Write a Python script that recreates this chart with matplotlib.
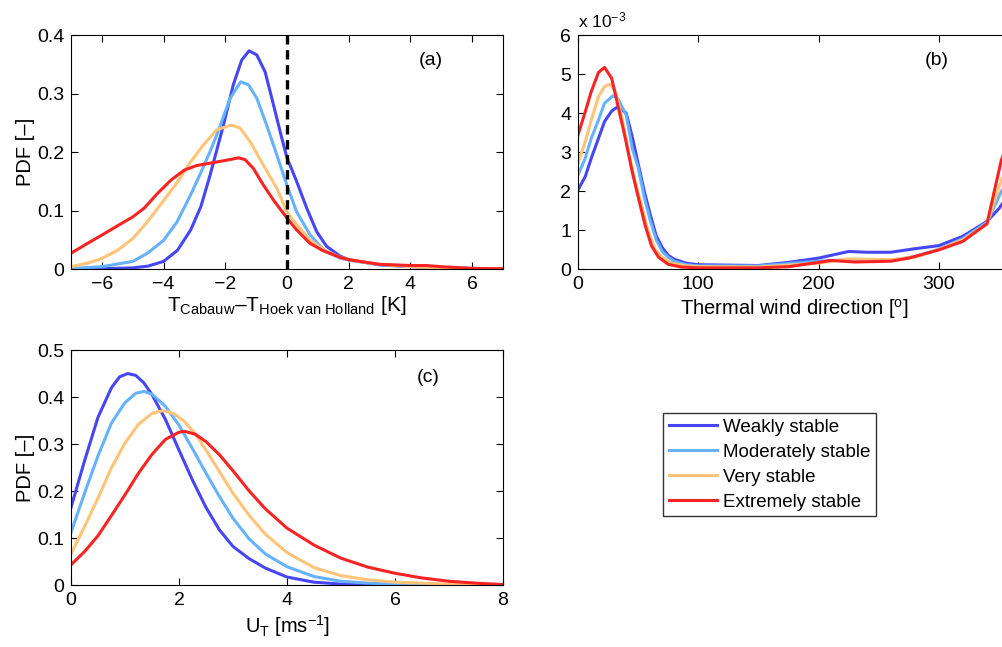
import matplotlib
matplotlib.use("Agg")
import matplotlib.pyplot as plt

plt.rcParams['font.family'] = ['Liberation Sans', 'DejaVu Sans']
plt.rcParams['font.size'] = 14
plt.rcParams['mathtext.fontset'] = 'custom'
plt.rcParams['mathtext.rm'] = 'Liberation Sans'
plt.rcParams['mathtext.it'] = 'Liberation Sans'
plt.rcParams['mathtext.default'] = 'regular'
plt.rcParams['axes.linewidth'] = 0.8

# Stability classes
classes = ['Weakly stable', 'Moderately stable', 'Very stable', 'Extremely stable']
colors = ['#4646f5', '#66b2ff', '#ffc477', '#f82424']

# (a) temperature difference Cabauw - Hoek van Holland [K]
dT_x = {
    'Weakly stable': [-7, -6, -5, -4.5, -4, -3.55, -3.12, -2.79, -2.49, -2.06, -1.74, -1.47,
                      -1.23, -0.98, -0.71, -0.44, -0.17, 0, 0.31, 0.64, 0.96, 1.28, 1.72, 2,
                      3, 4, 5, 6, 7],
    'Moderately stable': [-7, -6, -5, -4.52, -4, -3.57, -3.14, -2.79, -2.5, -2.28, -1.84, -1.5,
                          -1.25, -0.98, -0.66, -0.33, 0, 0.31, 0.74, 1.18, 1.7, 2, 3, 4, 5,
                          6, 7],
    'Very stable': [-7, -6.46, -6, -5.49, -5, -4.52, -4, -3.57, -3.14, -2.71, -2.28, -1.81,
                    -1.52, -1.2, -0.77, -0.33, 0, 0.31, 0.74, 1.18, 1.72, 2, 3, 4, 5, 6, 7],
    'Extremely stable': [-7, -6.46, -6, -5.49, -5, -4.63, -4.2, -3.76, -3.33, -2.92, -2.49,
                         -2.06, -1.57, -1.36, -1.09, -0.77, -0.44, 0, 0.31, 0.74, 1.18, 1.72,
                         2, 3, 4, 4.5, 5, 6, 7],
}
dT_pdf = {
    'Weakly stable': [0.0, 0.0005, 0.002, 0.005, 0.013, 0.032, 0.067, 0.107, 0.161, 0.246,
                      0.315, 0.357, 0.373, 0.366, 0.337, 0.281, 0.224, 0.19, 0.15, 0.104,
                      0.064, 0.039, 0.022, 0.016, 0.007, 0.004, 0.002, 0.001, 0.0005],
    'Moderately stable': [0.001, 0.004, 0.013, 0.027, 0.049, 0.08, 0.125, 0.165, 0.2, 0.229,
                          0.292, 0.32, 0.315, 0.292, 0.246, 0.195, 0.143, 0.098, 0.059,
                          0.033, 0.019, 0.015, 0.008, 0.005, 0.002, 0.001, 0.0],
    'Very stable': [0.004, 0.01, 0.018, 0.032, 0.052, 0.081, 0.117, 0.147, 0.182, 0.212,
                    0.238, 0.246, 0.241, 0.218, 0.178, 0.138, 0.097, 0.076, 0.05, 0.033,
                    0.02, 0.016, 0.008, 0.004, 0.002, 0.001, 0.0],
    'Extremely stable': [0.027, 0.044, 0.058, 0.074, 0.089, 0.104, 0.129, 0.152, 0.169, 0.177,
                         0.181, 0.185, 0.19, 0.187, 0.172, 0.144, 0.118, 0.087, 0.067, 0.044,
                         0.031, 0.02, 0.016, 0.008, 0.006, 0.006, 0.004, 0.001, 0.0005],
}

# (b) thermal wind direction [deg], PDF in units of 1e-3
dir_x = {
    'Weakly stable': [0, 6, 11, 17, 22, 28, 33, 40, 45, 50, 55, 60, 65, 70, 75, 80, 90, 100,
                      150, 175, 200, 225, 240, 260, 280, 300, 320, 340, 350, 360],
    'Moderately stable': [0, 6, 11, 17, 22, 29, 33, 40, 45, 50, 55, 60, 65, 70, 75, 80, 90, 100,
                          150, 200, 225, 260, 280, 300, 320, 340, 352, 360],
    'Very stable': [0, 6, 11, 17, 22, 27, 31, 36, 42, 47, 53, 58, 64, 70, 78, 90, 100, 150,
                    200, 225, 260, 280, 300, 320, 340, 352, 360],
    'Extremely stable': [0, 6, 11, 17, 22, 28, 33, 39, 45, 50, 56, 61, 67, 75, 86, 100, 150,
                         175, 200, 210, 230, 260, 275, 300, 320, 340, 352, 360],
}
dir_pdf = {
    'Weakly stable': [2.03, 2.37, 2.84, 3.35, 3.78, 4.05, 4.16, 4.0, 3.4, 2.7, 2.0, 1.4, 0.85,
                      0.55, 0.35, 0.25, 0.15, 0.11, 0.09, 0.17, 0.28, 0.45, 0.43, 0.43, 0.52,
                      0.6, 0.84, 1.22, 1.55, 2.0],
    'Moderately stable': [2.41, 2.84, 3.35, 3.82, 4.25, 4.44, 4.38, 3.95, 3.1, 2.6, 1.85, 1.25,
                          0.75, 0.45, 0.3, 0.2, 0.11, 0.08, 0.08, 0.2, 0.24, 0.22, 0.32,
                          0.51, 0.78, 1.2, 1.99, 2.4],
    'Very stable': [2.71, 3.26, 3.82, 4.42, 4.68, 4.74, 4.55, 3.95, 3.0, 2.3, 1.6, 1.0, 0.5,
                    0.3, 0.15, 0.08, 0.06, 0.05, 0.15, 0.26, 0.24, 0.3, 0.5, 0.75, 1.15,
                    2.29, 2.7],
    'Extremely stable': [3.44, 4.03, 4.55, 5.04, 5.17, 4.89, 4.21, 3.4, 2.5, 1.85, 1.1, 0.6,
                         0.3, 0.12, 0.05, 0.03, 0.03, 0.06, 0.17, 0.22, 0.18, 0.2, 0.28,
                         0.49, 0.71, 1.16, 2.8, 3.4],
}

# (c) thermal wind speed [m/s]
ut_x = {
    'Weakly stable': [0, 0.25, 0.5, 0.75, 0.9, 1.05, 1.2, 1.35, 1.5, 1.75, 2, 2.25, 2.5, 2.75,
                      3, 3.3, 3.6, 4, 4.5, 5, 6, 8],
    'Moderately stable': [0, 0.25, 0.5, 0.75, 1, 1.2, 1.35, 1.5, 1.75, 2, 2.25, 2.5, 2.75, 3,
                          3.3, 3.6, 4, 4.5, 5, 5.5, 6, 7, 8],
    'Very stable': [0, 0.25, 0.5, 0.75, 1, 1.25, 1.5, 1.7, 1.9, 2.1, 2.3, 2.5, 2.75, 3, 3.3,
                    3.6, 4, 4.5, 5, 5.5, 6, 7, 8],
    'Extremely stable': [0, 0.25, 0.5, 0.75, 1, 1.25, 1.5, 1.75, 2, 2.1, 2.3, 2.5, 2.75, 3,
                         3.3, 3.6, 4, 4.5, 5, 5.5, 6, 6.5, 7, 7.5, 8],
}
ut_pdf = {
    'Weakly stable': [0.165, 0.264, 0.357, 0.42, 0.443, 0.45, 0.446, 0.43, 0.405, 0.352, 0.287,
                      0.223, 0.165, 0.117, 0.082, 0.056, 0.036, 0.017, 0.006, 0.002, 0.0,
                      0.0],
    'Moderately stable': [0.112, 0.195, 0.275, 0.345, 0.388, 0.408, 0.412, 0.406, 0.38, 0.34,
                          0.29, 0.238, 0.188, 0.142, 0.098, 0.066, 0.039, 0.018, 0.008,
                          0.004, 0.002, 0.0, 0.0],
    'Very stable': [0.066, 0.124, 0.185, 0.25, 0.302, 0.342, 0.365, 0.371, 0.365, 0.348,
                    0.322, 0.287, 0.241, 0.195, 0.148, 0.108, 0.069, 0.037, 0.02, 0.011,
                    0.006, 0.002, 0.0],
    'Extremely stable': [0.043, 0.071, 0.105, 0.148, 0.192, 0.238, 0.278, 0.31, 0.325, 0.327,
                         0.321, 0.305, 0.277, 0.243, 0.2, 0.162, 0.121, 0.085, 0.057, 0.038,
                         0.025, 0.015, 0.008, 0.004, 0.001],
}

fig = plt.figure(figsize=(10.03, 6.47), dpi=100)
ax_a = fig.add_axes([0.0708, 0.5842, 0.4307, 0.3617])
ax_b = fig.add_axes([0.5763, 0.5842, 0.4317, 0.3617])
ax_c = fig.add_axes([0.0708, 0.0958, 0.4307, 0.3632])


def style(ax):
    ax.tick_params(direction='in', length=5, width=0.8, top=True, right=True, pad=5,
                   labelsize=14)


lw = 2.2
for name, c in zip(classes, colors):
    ax_a.plot(dT_x[name], dT_pdf[name], color=c, lw=lw, label=name)
    ax_b.plot(dir_x[name], dir_pdf[name], color=c, lw=lw)
    ax_c.plot(ut_x[name], ut_pdf[name], color=c, lw=lw)

MINUS = '\u2212'
DASH = '\u2013'

# (a)
ax_a.axvline(0, color='black', lw=2.4, ls=(0, (2.8, 1.7)))
ax_a.set_xlim(-7, 7)
ax_a.set_ylim(0, 0.4)
ax_a.set_xticks([-6, -4, -2, 0, 2, 4, 6])
ax_a.set_xticklabels([MINUS + '6', MINUS + '4', MINUS + '2', '0', '2', '4', '6'])
ax_a.set_yticks([0, 0.1, 0.2, 0.3, 0.4])
ax_a.set_yticklabels(['0', '0.1', '0.2', '0.3', '0.4'])
ax_a.set_ylabel('PDF [' + DASH + ']', fontsize=14.5, labelpad=1)
ax_a.set_xlabel('T$_{\\mathrm{Cabauw}}$' + DASH + 'T$_{\\mathrm{Hoek\\ van\\ Holland}}$ [K]',
                fontsize=15, labelpad=1)
ax_a.text(0.805, 0.87, '(a)', transform=ax_a.transAxes, fontsize=14)
style(ax_a)

# (b)
ax_b.set_xlim(0, 360)
ax_b.set_ylim(0, 6)
ax_b.set_xticks([0, 100, 200, 300])
ax_b.set_yticks([0, 1, 2, 3, 4, 5, 6])
ax_b.set_xlabel('Thermal wind direction [$^{\\mathrm{o}}$]', fontsize=14.5, labelpad=3)
ax_b.text(0.80, 0.87, '(b)', transform=ax_b.transAxes, fontsize=14)
fig.text(578 / 1003, 1 - 27 / 647, 'x 10$^{' + MINUS + '3}$', fontsize=12.5)
style(ax_b)

# (c)
ax_c.set_xlim(0, 8)
ax_c.set_ylim(0, 0.5)
ax_c.set_xticks([0, 2, 4, 6, 8])
ax_c.set_yticks([0, 0.1, 0.2, 0.3, 0.4, 0.5])
ax_c.set_yticklabels(['0', '0.1', '0.2', '0.3', '0.4', '0.5'])
ax_c.set_ylabel('PDF [' + DASH + ']', fontsize=14.5, labelpad=1)
ax_c.set_xlabel('U$_{\\mathrm{T}}$ [ms$^{' + MINUS + '1}$]', fontsize=14.5, labelpad=3)
ax_c.text(0.80, 0.865, '(c)', transform=ax_c.transAxes, fontsize=14)
style(ax_c)

leg = fig.legend(loc='upper left', bbox_to_anchor=(663 / 1003, 1 - 413 / 647),
                 fontsize=13.5, frameon=True, fancybox=False, edgecolor='black',
                 borderaxespad=0, handlelength=2.6, handletextpad=0.3,
                 labelspacing=0.42, borderpad=0.3)
leg.get_frame().set_linewidth(1.0)

fig.savefig('out.png', dpi=100)
